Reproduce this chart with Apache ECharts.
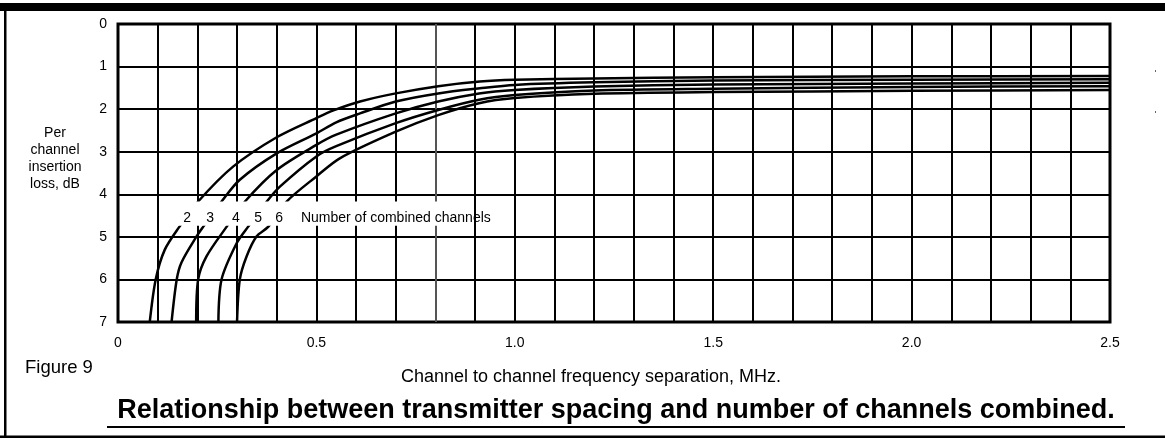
<!DOCTYPE html>
<html><head><meta charset="utf-8">
<script src="https://cdn.jsdelivr.net/npm/echarts@6/dist/echarts.min.js"></script>
<style>html,body{margin:0;padding:0;background:#fff}#c{width:1165px;height:441px}</style>
</head><body><div id="c"></div>
<script>
// ---- data ----
const curveNames = ['2', '3', '4', '5', '6'];
const sep2  = [0.080, 0.095, 0.118, 0.155, 0.202, 0.29, 0.40, 0.50, 0.543, 0.61, 0.70, 0.807, 0.912, 1.0, 1.2, 1.5, 2.0, 2.5];
const loss2 = [7.0,   6.0,   5.3,   4.76,  4.17,  3.35, 2.66, 2.21, 2.03,  1.82, 1.63, 1.46,  1.35,  1.31, 1.28, 1.25, 1.23, 1.22];
const sep3  = [0.135, 0.148, 0.16, 0.198, 0.215, 0.261, 0.307, 0.40, 0.50, 0.55, 0.61, 0.70, 0.807, 0.912, 1.0, 1.2, 1.5, 2.0, 2.5];
const loss3 = [7.0,   6.0,   5.6,  4.99,  4.76,  4.17,  3.66,  3.04, 2.57, 2.31, 2.10, 1.82, 1.63,  1.51,  1.43, 1.37, 1.33, 1.31, 1.30];
const sep4  = [0.197, 0.202, 0.223, 0.274, 0.32, 0.40, 0.50, 0.55, 0.70, 0.807, 0.91, 1.0, 1.2, 1.5, 2.0, 2.5];
const loss4 = [7.0,   6.0,   5.46,  4.76,  4.17, 3.43, 2.84, 2.60, 2.10, 1.82,  1.63, 1.55, 1.47, 1.42, 1.40, 1.38];
const sep5  = [0.253, 0.261, 0.299, 0.328, 0.375, 0.408, 0.50, 0.55, 0.70, 0.807, 0.91, 1.0, 1.2, 1.5, 2.0, 2.5];
const loss5 = [7.0,   6.0,   5.15,  4.76,  4.17,  3.82,  3.11, 2.87, 2.33, 2.02,  1.78, 1.67, 1.56, 1.52, 1.48, 1.46];
const sep6  = [0.300, 0.307, 0.324, 0.349, 0.379, 0.425, 0.50, 0.56, 0.70, 0.807, 0.91, 1.0, 1.2, 1.5, 2.0, 2.5];
const loss6 = [7.0,   6.0,   5.46,  4.99,  4.76,  4.17,  3.58, 3.15, 2.53, 2.14,  1.86, 1.74, 1.64, 1.60, 1.57, 1.55];

const xTickValues = [0, 0.5, 1.0, 1.5, 2.0, 2.5];
const xTickLabels = ['0', '0.5', '1.0', '1.5', '2.0', '2.5'];
const yTickLabels = ['0', '1', '2', '3', '4', '5', '6', '7'];

const labelSep  = [0.174, 0.232, 0.297, 0.353, 0.406];   // where the channel-count numbers sit
const labelLoss = 4.55;
const annotText = 'Number of combined channels';
const annotSep = 0.461;

const titleText = 'Relationship between transmitter spacing and number of channels combined.';
const xNameText = 'Channel to channel frequency separation, MHz.';
const yNameText = 'Per\nchannel\ninsertion\nloss, dB';
const figText = 'Figure 9';

// ---- chart ----
const FONT = '"Liberation Sans", Arial, sans-serif';
const seps = [sep2, sep3, sep4, sep5, sep6];
const losses = [loss2, loss3, loss4, loss5, loss6];

const vColors = [];
for (let i = 0; i <= 25; i++) vColors.push(i === 8 ? '#555' : '#000');

const chart = echarts.init(document.getElementById('c'), null, {renderer: 'canvas'});
chart.setOption({
  animation: false,
  backgroundColor: '#fff',
  grid: {left: 118, right: 55, top: 24, bottom: 119, show: true, borderColor: '#000', borderWidth: 3, backgroundColor: '#fff'},
  xAxis: {
    type: 'value', min: 0, max: 2.5, interval: 0.1,
    axisLine: {show: false}, axisTick: {show: false},
    axisLabel: {
      margin: 14, color: '#000', fontSize: 14, fontFamily: FONT, showMinLabel: true, showMaxLabel: true,
      formatter: function (v) {
        for (let i = 0; i < xTickValues.length; i++) if (Math.abs(v - xTickValues[i]) < 1e-6) return xTickLabels[i];
        return '';
      }
    },
    splitLine: {show: true, lineStyle: {color: vColors, width: 2}}
  },
  yAxis: {
    type: 'value', min: 0, max: 7, interval: 1, inverse: true,
    axisLine: {show: false}, axisTick: {show: false},
    axisLabel: {margin: 11, color: '#000', fontSize: 14, fontFamily: FONT,
      formatter: function (v) { return yTickLabels[Math.round(v)]; }},
    splitLine: {show: true, lineStyle: {color: '#000', width: 2}}
  },
  series: curveNames.map(function (n, k) {
    return {
      name: n, type: 'line', showSymbol: false, symbol: 'none',
      smooth: 0.3, clip: true, z: 3,
      lineStyle: {color: '#000', width: 2.5},
      data: seps[k].map(function (x, i) { return [x, losses[k][i]]; })
    };
  })
});

const px = function (x, y) { return chart.convertToPixel({gridIndex: 0}, [x, y]); };
const b0 = px(0.13, 4.17), b1 = px(0.897, 4.74);
const g = [];
// white annotation box interrupting the grid and curves
g.push({type: 'rect', z: 100, shape: {x: b0[0], y: b0[1], width: b1[0] - b0[0], height: b1[1] - b0[1]}, style: {fill: '#fff'}});
curveNames.forEach(function (n, i) {
  const p = px(labelSep[i], labelLoss);
  g.push({type: 'text', z: 101, x: p[0], y: p[1], style: {text: n, font: '14px ' + FONT, fill: '#000', textAlign: 'center', textVerticalAlign: 'middle'}});
});
const ap = px(annotSep, labelLoss);
g.push({type: 'text', z: 101, x: ap[0], y: ap[1], style: {text: annotText, font: '14px ' + FONT, fill: '#000', textAlign: 'left', textVerticalAlign: 'middle'}});
// y axis name
g.push({type: 'text', z: 101, x: 55, y: 125, style: {text: yNameText, font: '14px ' + FONT, lineHeight: 17, fill: '#000', textAlign: 'center', textVerticalAlign: 'top'}});
// figure label, x axis name, title
g.push({type: 'text', z: 101, x: 25, y: 368, style: {text: figText, font: '18.5px ' + FONT, fill: '#000', textAlign: 'left', textVerticalAlign: 'middle'}});
g.push({type: 'text', z: 101, x: 591, y: 377, style: {text: xNameText, font: '18px ' + FONT, fill: '#000', textAlign: 'center', textVerticalAlign: 'middle'}});
g.push({type: 'text', z: 101, x: 616, y: 411, style: {text: titleText, font: 'bold 27px ' + FONT, fill: '#000', textAlign: 'center', textVerticalAlign: 'middle'}});
g.push({type: 'rect', z: 101, shape: {x: 107, y: 426, width: 1018, height: 2}, style: {fill: '#000'}});
// outer frame
g.push({type: 'rect', z: 101, shape: {x: 0, y: 3, width: 1165, height: 8}, style: {fill: '#000'}});
g.push({type: 'rect', z: 101, shape: {x: 4, y: 3, width: 2.5, height: 435}, style: {fill: '#000'}});
g.push({type: 'rect', z: 101, shape: {x: 0, y: 435.5, width: 1165, height: 2.5}, style: {fill: '#000'}});
// tiny specks at right
g.push({type: 'rect', z: 101, shape: {x: 1155, y: 70, width: 1, height: 2}, style: {fill: '#666'}});
g.push({type: 'rect', z: 101, shape: {x: 1155, y: 111, width: 1, height: 2}, style: {fill: '#666'}});
chart.setOption({graphic: g});
</script></body></html>
